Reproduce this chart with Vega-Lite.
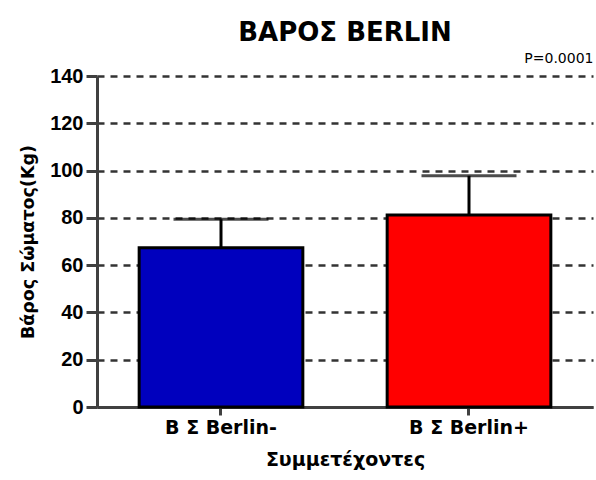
{
  "$schema": "https://vega.github.io/schema/vega-lite/v6.json",
  "autosize": "none",
  "width": 496,
  "height": 331,
  "padding": {"left": 97, "top": 76, "right": 3, "bottom": 73},
  "background": "white",
  "config": {
    "view": {"stroke": null},
    "font": "DejaVu Sans"
  },
  "title": {
    "text": "ΒΑΡΟΣ BERLIN",
    "font": "DejaVu Sans",
    "fontSize": 26,
    "fontWeight": "bold",
    "color": "#000000",
    "anchor": "middle",
    "offset": 5
  },
  "data": {
    "values": [
      {"group": "Β Σ Berlin-", "mean": 67.4, "upper": 79.4},
      {"group": "Β Σ Berlin+", "mean": 81.2, "upper": 97.8}
    ]
  },
  "resolve": {"axis": {"x": "independent"}},
  "layer": [
    {
      "mark": {"type": "bar", "stroke": "#000000", "strokeWidth": 3, "strokeJoin": "miter"},
      "encoding": {
        "x": {
          "field": "group",
          "type": "nominal",
          "sort": null,
          "scale": {"paddingInner": 0.34, "paddingOuter": 0.17},
          "axis": {
            "orient": "bottom",
            "title": "Συμμετέχοντες",
            "titleFont": "DejaVu Sans",
            "titleFontSize": 19,
            "titleFontWeight": "bold",
            "titleColor": "#000000",
            "titlePadding": 13,
            "labelAngle": 0,
            "labelFont": "DejaVu Sans",
            "labelFontSize": 19,
            "labelFontWeight": "bold",
            "labelColor": "#000000",
            "labelPadding": 3,
            "domainColor": "#404040",
            "domainWidth": 3,
            "tickColor": "#404040",
            "tickWidth": 3,
            "tickSize": 8,
            "grid": false
          }
        },
        "y": {
          "field": "mean",
          "type": "quantitative",
          "scale": {"domain": [0, 140], "nice": false},
          "axis": {
            "title": "Βάρος Σώματος(Kg)",
            "titleFont": "DejaVu Sans",
            "titleFontSize": 17.5,
            "titleFontWeight": "bold",
            "titleColor": "#000000",
            "titlePadding": 12,
            "values": [0, 20, 40, 60, 80, 100, 120, 140],
            "labelFont": "Liberation Sans",
            "labelFontSize": 20,
            "labelFontWeight": "bold",
            "labelColor": "#000000",
            "labelPadding": 3,
            "domainColor": "#404040",
            "domainWidth": 3,
            "tickColor": "#404040",
            "tickWidth": 3,
            "tickSize": 11,
            "grid": true,
            "gridColor": "#333333",
            "gridWidth": 2.5,
            "gridDash": [7, 6]
          }
        },
        "color": {
          "field": "group",
          "type": "nominal",
          "sort": null,
          "scale": {"domain": ["Β Σ Berlin-", "Β Σ Berlin+"], "range": ["#0000BE", "#FF0000"]},
          "legend": null
        }
      }
    },
    {
      "mark": {"type": "rule", "color": "#000000", "strokeWidth": 3},
      "encoding": {
        "x": {"field": "group", "type": "nominal", "sort": null,
          "axis": {"orient": "top", "title": "P=0.0001", "titleAnchor": "end", "titleFont": "DejaVu Sans", "titleFontSize": 14, "titleFontWeight": "normal", "titleColor": "#000000", "titlePadding": 11, "labels": false, "ticks": false, "domain": false, "grid": false}},
        "y": {"field": "mean", "type": "quantitative"},
        "y2": {"field": "upper"}
      }
    },
    {
      "mark": {"type": "tick", "color": "#000000", "thickness": 3, "size": 95, "orient": "horizontal"},
      "encoding": {
        "x": {"field": "group", "type": "nominal", "sort": null, "axis": null},
        "y": {"field": "upper", "type": "quantitative"}
      }
    }
  ]
}
